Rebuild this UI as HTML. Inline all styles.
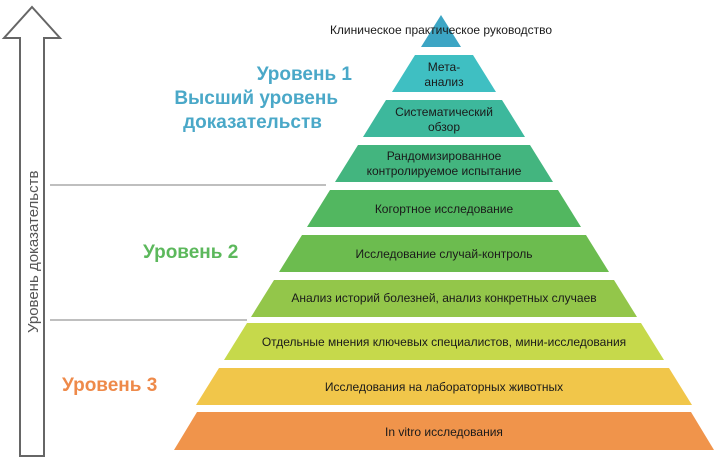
<!DOCTYPE html>
<html><head><meta charset="utf-8"><style>
html,body{margin:0;padding:0;background:#fff;}
svg{display:block;font-family:"Liberation Sans",Arial,sans-serif;}
</style></head><body>
<svg width="725" height="466" viewBox="0 0 725 466" xmlns="http://www.w3.org/2000/svg">
<polygon points="32,7 60,38 44,38 44,456 20,456 20,38 4,38" fill="#fff" stroke="#666" stroke-width="2"/>
<text transform="translate(38,333) rotate(-90)" font-size="15" fill="#555">Уровень доказательств</text>
<line x1="50" y1="185" x2="326" y2="185" stroke="#999" stroke-width="1.2"/>
<line x1="50" y1="320" x2="247" y2="320" stroke="#999" stroke-width="1.2"/>
<g font-weight="bold" font-size="19">
<text x="352" y="80" text-anchor="end" fill="#4aa8c8">Уровень 1</text>
<text x="338" y="104" text-anchor="end" fill="#4aa8c8">Высший уровень</text>
<text x="322" y="128" text-anchor="end" fill="#4aa8c8">доказательств</text>
<text x="143" y="258" fill="#5cb85c">Уровень 2</text>
<text x="62" y="391" fill="#ee8a4a">Уровень 3</text>
</g>
<polygon points="441,15 461,47 421,47" fill="#3ca5c4"/>
<polygon points="415,55 473,55 496,92 392,92" fill="#3fbfc2"/>
<polygon points="386,100 502,100 525,137 363,137" fill="#3db89c"/>
<polygon points="358,145 530,145 553,182 335,182" fill="#43b57f"/>
<polygon points="330,190 558,190 581,227 307,227" fill="#52b760"/>
<polygon points="302,235 586,235 609,272 279,272" fill="#6cbc4f"/>
<polygon points="274,280 614,280 637,317 251,317" fill="#93c64a"/>
<polygon points="247,323 641,323 664,360 224,360" fill="#c6d94b"/>
<polygon points="219,368 669,368 692,405 196,405" fill="#f1c64a"/>
<polygon points="197,412 691,412 714,450 174,450" fill="#f0944b"/>
<g font-size="12" fill="#1a1a1a" text-anchor="middle">
<text x="441" y="34">Клиническое практическое руководство</text>
<text x="444" y="71">Мета-</text>
<text x="444" y="86">анализ</text>
<text x="444" y="116">Систематический</text>
<text x="444" y="131">обзор</text>
<text x="444" y="160">Рандомизированное</text>
<text x="444" y="175">контролируемое испытание</text>
<text x="444" y="213">Когортное исследование</text>
<text x="444" y="258">Исследование случай-контроль</text>
<text x="444" y="302">Анализ историй болезней, анализ конкретных случаев</text>
<text x="444" y="346">Отдельные мнения ключевых специалистов, мини-исследования</text>
<text x="444" y="391">Исследования на лабораторных животных</text>
<text x="444" y="436">In vitro исследования</text>
</g>
</svg>
</body></html>
